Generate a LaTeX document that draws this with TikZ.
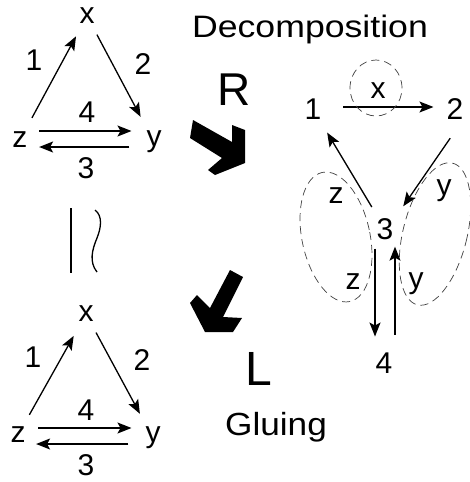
\documentclass[tikz,border=0pt]{standalone}
\usepackage{fontspec}
\setmainfont{Liberation Sans}
\usetikzlibrary{arrows.meta}

\begin{document}
\begin{tikzpicture}[x=1pt,y=-1pt,
    lbl/.style={circle,inner sep=0pt,minimum size=20pt,font=\fontsize{30}{30}\selectfont},
    txt/.style={inner sep=0pt,font=\fontsize{30}{30}\selectfont},
    arr/.style={-{Stealth[length=14pt,width=11pt,inset=3pt]},line width=1.3pt},
    blob/.style={draw=black!75,line width=0.7pt,dash pattern=on 8pt off 5pt}]
\useasboundingbox (0,0) rectangle (470,482);

% graph before R
\node[lbl] (xa) at (87,16) {x};
\node[lbl] (za) at (20,140) {z};
\node[lbl] (ya) at (154,142) {y};
\node[txt] (onea) at (34,60) {1};
\node[txt] (twoa) at (143,64) {2};
\node[txt] (foura) at (87,112) {4};
\node[txt] (threea) at (86,168) {3};
\draw[arr,shorten <=14pt,shorten >=12pt] (za) -- (xa);
\draw[arr,shorten <=10pt,shorten >=15pt] (xa) -- (ya);
\draw[arr,shorten <=8pt,shorten >=9pt] ([yshift=9pt]za.east) -- ([yshift=11pt]ya.west);
\draw[arr,shorten <=11pt,shorten >=8pt] ([yshift=-5pt]ya.west) -- ([yshift=-7pt]za.east);

% graph after L
\node[lbl] (xb) at (86,314) {x};
\node[lbl] (zb) at (18,435) {z};
\node[lbl] (yb) at (153,438) {y};
\node[txt] (oneb) at (33,357) {1};
\node[txt] (twob) at (142,360) {2};
\node[txt] (fourb) at (86,410) {4};
\node[txt] (threeb) at (86,465) {3};
\draw[arr,shorten <=12pt,shorten >=14pt] (zb) -- (xb);
\draw[arr,shorten <=10pt,shorten >=14pt] (xb) -- (yb);
\draw[arr,shorten <=9pt,shorten >=8pt] ([yshift=7pt]zb.east) -- ([yshift=10pt]yb.west);
\draw[arr,shorten <=11pt,shorten >=7pt] ([yshift=-6pt]yb.west) -- ([yshift=-9pt]zb.east);

% isomorphic sign
\draw[line width=1.4pt] (71,208) -- (71,273);
\draw[line width=1.3pt] (95,210) .. controls (103,216) and (101,228) .. (97,238)
    .. controls (92,250) and (89,262) .. (97,272);

% decomposed graph
\node[lbl] (n1) at (313,109) {1};
\node[lbl] (n2) at (455,109) {2};
\node[lbl] (n3) at (385,229) {3};
\node[lbl] (n4) at (384,363) {4};
\draw[arr,shorten <=17pt,shorten >=8pt] ([yshift=2pt]n1.east) -- ([yshift=2pt]n2.west);
\draw[arr,shorten <=19pt,shorten >=11pt] ([xshift=6pt]n2.south) -- ([xshift=12pt]n3.north);
\draw[arr,shorten <=12pt,shorten >=14pt] (n3) -- (n1);
\draw[arr,shorten <=6pt,shorten >=13pt] ([xshift=-10pt]n3.south) -- ([xshift=-9pt]n4.north);
\draw[arr,shorten <=15pt,shorten >=4pt] ([xshift=11pt]n4.north) -- ([xshift=10pt]n3.south);
\node[txt] (lx) at (378,91) {x};
\node[txt] (lz) at (336,196) {z};
\node[txt] (ly) at (444,191) {y};
\node[txt] (lzz) at (353,282) {z};
\node[txt] (lyy) at (416,284) {y};
\draw[blob] (376,88) ellipse [x radius=26pt,y radius=28pt];
\draw[blob,rotate around={12:(336,237)}] (336,237) ellipse [x radius=34pt,y radius=66pt];
\draw[blob,rotate around={-14:(435,234)}] (435,234) ellipse [x radius=32pt,y radius=73pt];

% big arrows
\fill (193,120) -- (232,142) -- (232,125) -- (245,130) -- (245,163) -- (215,175)
    -- (208,170) -- (222,158) -- (190,138) -- cycle;
\fill (230,270) -- (243,277) -- (223,317) -- (242,318) -- (233,332) -- (205,332)
    -- (190,303) -- (197,295) -- (210,308) -- cycle;

% titles
\node[anchor=base,inner sep=0pt,font=\fontsize{31}{31}\selectfont,xscale=1.15,transform shape] (decomp) at (310,37) {Decomposition};
\node[anchor=base,inner sep=0pt,font=\fontsize{46}{46}\selectfont] (rlab) at (234,105) {R};
\node[anchor=base,inner sep=0pt,font=\fontsize{48}{48}\selectfont] (llab) at (259,385) {L};
\node[anchor=base,inner sep=0pt,font=\fontsize{32}{32}\selectfont,xscale=1.1,transform shape] (glue) at (276,435) {Gluing};
\end{tikzpicture}
\end{document}
